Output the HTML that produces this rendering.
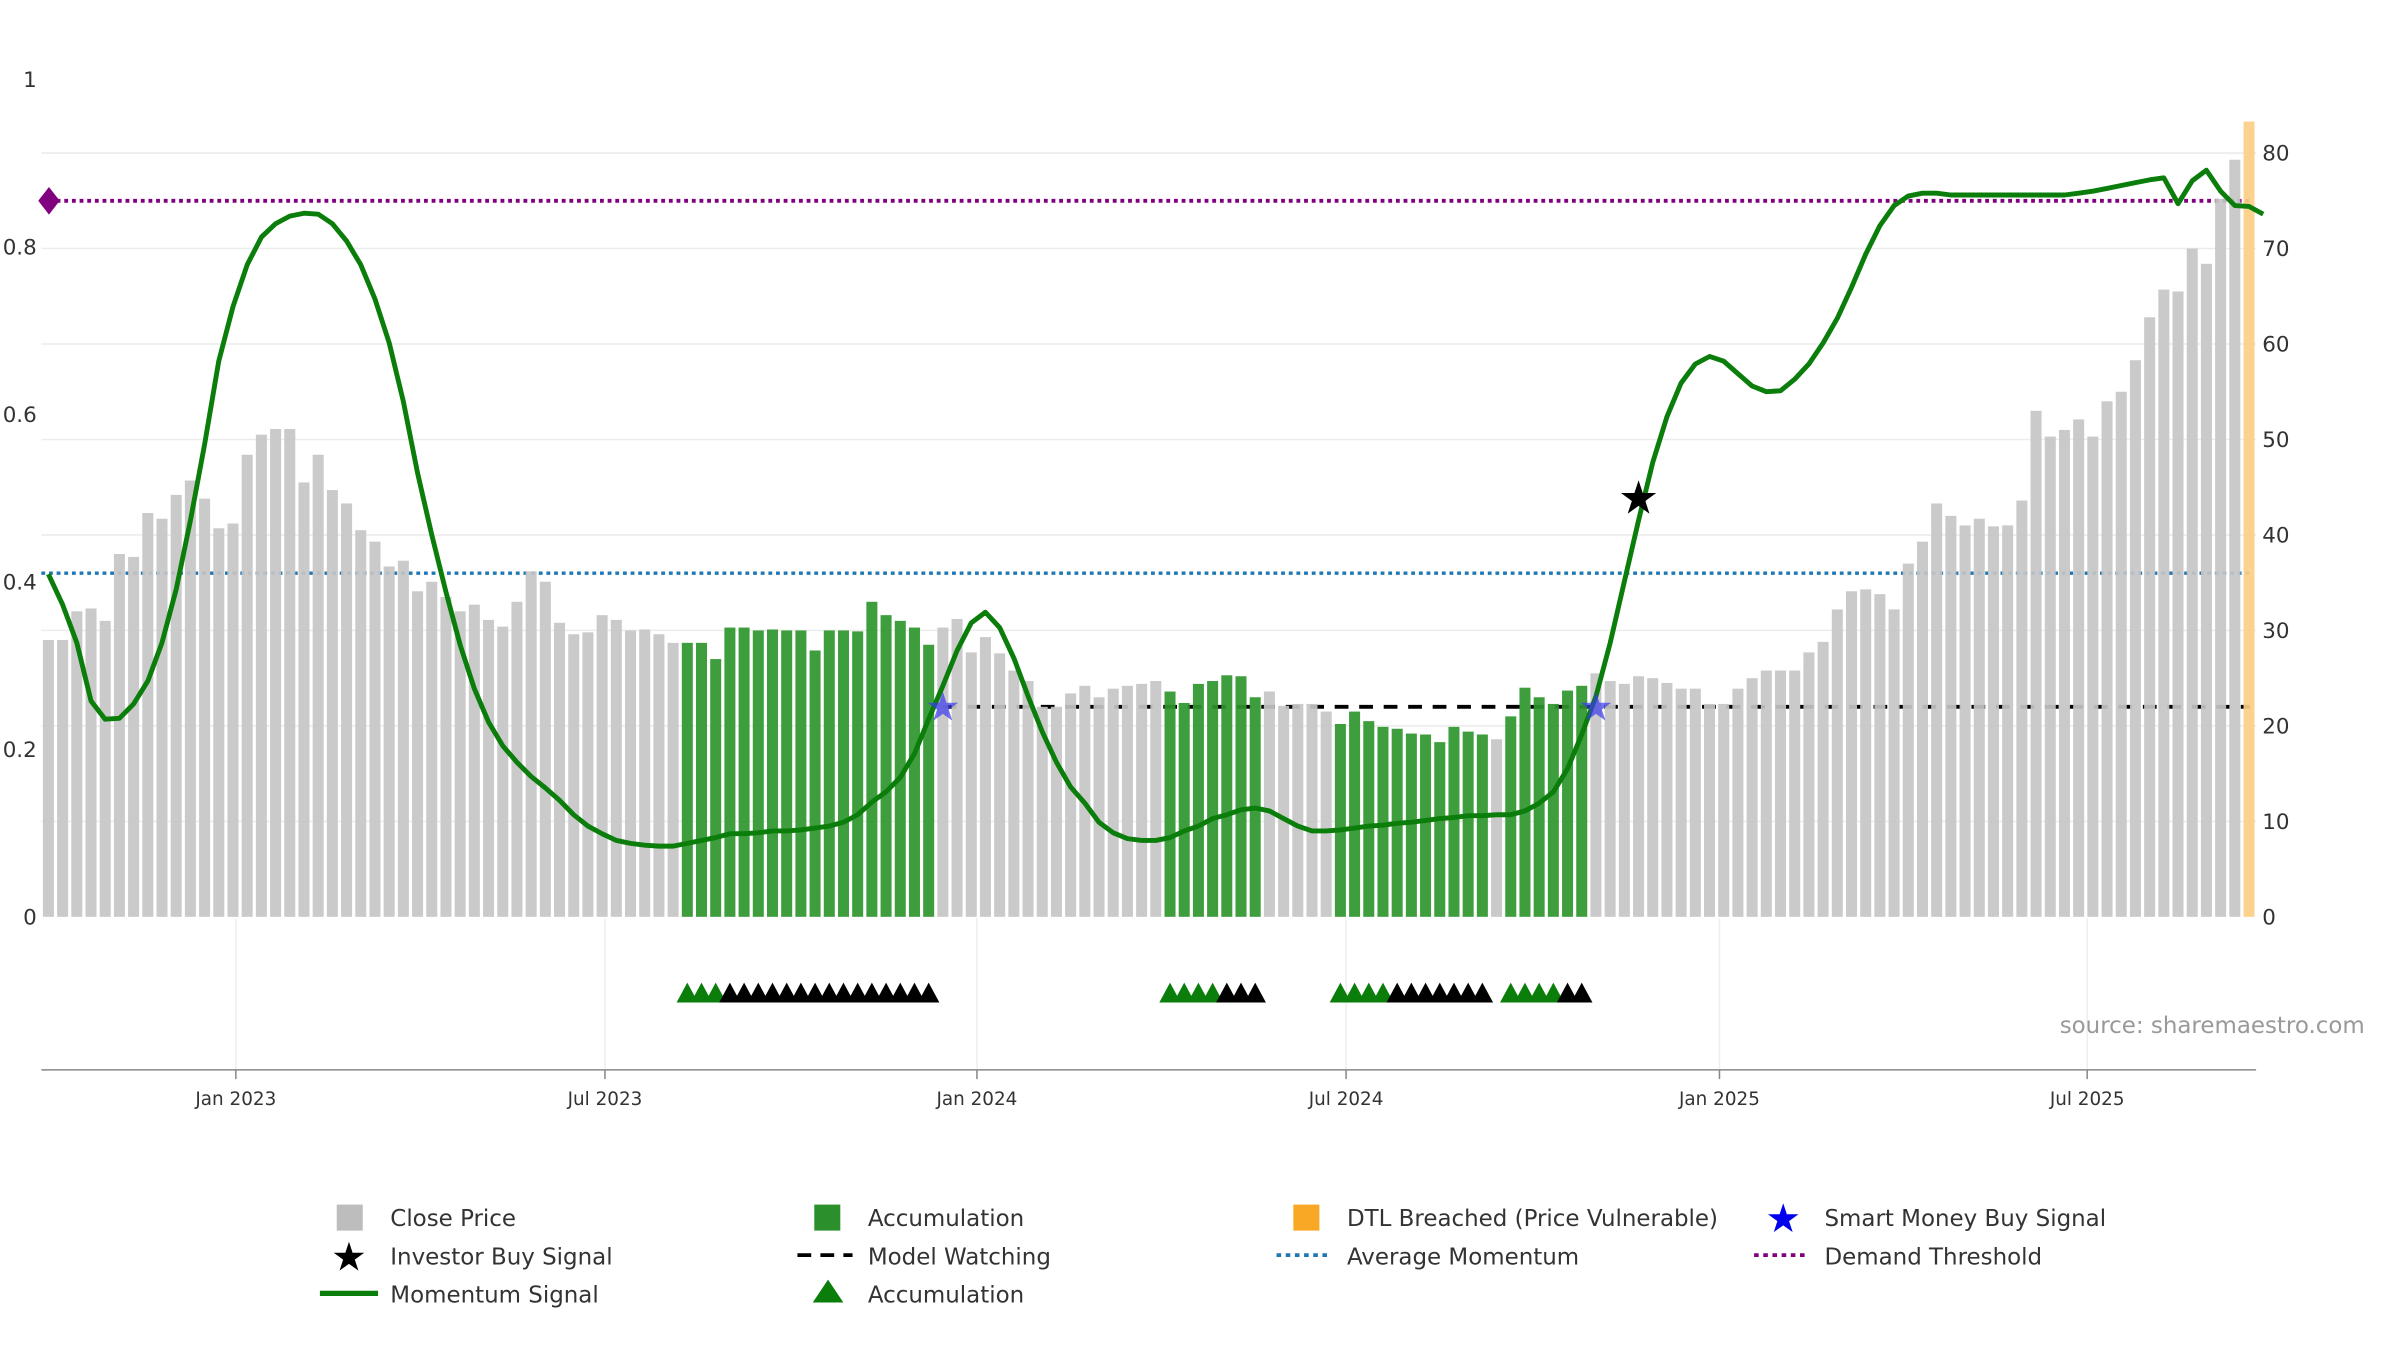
<!DOCTYPE html>
<html><head><meta charset="utf-8"><style>
html,body{margin:0;padding:0;background:#fff;}
svg{display:block;font-family:"DejaVu Sans","Liberation Sans",sans-serif;}
</style></head><body>
<svg id="chart" width="2400" height="1350" viewBox="0 0 1568 882" preserveAspectRatio="none" xmlns="http://www.w3.org/2000/svg">
<g id="grid"></g>
<g id="lines"></g>
<g id="bars"></g>
<g id="mline"></g>
<g id="axes"></g>
<g id="marks"></g>
<text x="1545" y="675" text-anchor="end" font-size="15" fill="#999">source: sharemaestro.com</text>
<g font-size="15" fill="#333">
  <g><rect x="220" y="787" width="17" height="17" fill="#bdbdbd"/><text x="255" y="801">Close Price</text></g>
  <g><rect x="532" y="787" width="17" height="17" fill="#2b8f2b"/><text x="567" y="801">Accumulation</text></g>
  <g><rect x="845" y="787" width="17" height="17" fill="#f9a825"/><text x="880" y="801">DTL Breached (Price Vulnerable)</text></g>
  <g><text x="1165" y="805" font-size="26" fill="#0000ee" text-anchor="middle">★</text><text x="1192" y="801">Smart Money Buy Signal</text></g>
  <g><text x="228" y="830" font-size="26" fill="#000" text-anchor="middle">★</text><text x="255" y="826">Investor Buy Signal</text></g>
  <g><line x1="521" y1="820" x2="557" y2="820" stroke="#000" stroke-width="2.5" stroke-dasharray="9,6"/><text x="567" y="826">Model Watching</text></g>
  <g><line x1="834" y1="820" x2="870" y2="820" stroke="#1f77b4" stroke-width="2.5" stroke-dasharray="3,3"/><text x="880" y="826">Average Momentum</text></g>
  <g><line x1="1146" y1="820" x2="1182" y2="820" stroke="#800080" stroke-width="2.5" stroke-dasharray="3,3"/><text x="1192" y="826">Demand Threshold</text></g>
  <g><line x1="209" y1="845" x2="247" y2="845" stroke="#0a7d0a" stroke-width="3.5"/><text x="255" y="851">Momentum Signal</text></g>
  <g><polygon points="531,851 551,851 541,836" fill="#0a7d0a"/><text x="567" y="851">Accumulation</text></g>
</g>
</svg>
<script>
const closePrice = [29,29,32,32.3,31,38,37.7,42.3,41.7,44.2,45.7,43.8,40.7,41.2,48.4,50.5,51.1,51.1,45.5,48.4,44.7,43.3,40.5,39.3,36.7,37.3,34.1,35.1,33.5,32,32.7,31.1,30.4,33,36.2,35.1,30.8,29.6,29.8,31.6,31.1,30,30.1,29.6,28.7,
28.7,28.7,27,30.3,30.3,30,30.1,30,30,27.9,30,30,29.9,33,31.6,31,30.3,
28.5,30.3,31.2,27.7,29.3,27.6,25.8,24.7,22,22,23.4,24.2,23,23.9,24.2,24.4,
24.7,23.6,22.4,24.4,24.7,25.3,25.2,
23,23.6,22.1,22.3,22.3,
21.5,20.2,21.5,20.5,19.9,19.7,19.2,19.1,18.3,19.9,19.4,
19.1,
18.6,21,24,23,22.3,23.7,
24.2,25.5,24.7,24.4,25.2,25,24.5,23.9,23.9,22.3,22.3,23.9,25,25.8,25.8,25.8,27.7,28.8,32.2,34.1,34.3,33.8,32.2,37,39.3,43.3,42,41,41.7,40.9,41,43.6,53,50.3,51,52.1,50.3,54,55,58.3,62.8,65.7,65.5,70,68.4,75.2,
79.3,83.3];
const momentum = [35.9,32.7,28.7,22.6,20.7,20.8,22.3,24.7,28.7,34.3,41.5,49.5,58.2,63.9,68.3,71.2,72.6,73.4,73.7,73.6,72.6,70.8,68.3,64.7,60.1,54,46.5,
40,34,28.5,23.9,20.4,17.9,
16.2,14.7,13.5,12.2,10.7,9.5,8.7,8,7.7,7.5,7.4,7.4,
7.7,8,8.3,8.7,8.7,8.8,9,9,9.1,9.3,9.5,9.9,10.7,12,13.1,14.6,17.1,20.7,
24.2,27.9,30.8,31.9,30.3,27.1,23.1,19.4,16.2,13.6,11.9,9.9,8.8,8.2,8,8,
8.3,9,9.5,10.3,10.7,11.2,11.4,11.1,10.3,9.5,9,9,
9.1,9.3,9.5,9.6,9.8,9.9,10.1,10.3,10.4,10.6,10.6,10.7,10.7,11.1,11.9,13.1,15.5,19.1,
23.1,28.7,35.1,41.5,47.6,52.4,55.9,57.9,58.7,58.2,56.9,55.6,55,55.1,56.3,57.9,60.1,62.7,65.9,69.4,72.4,74.5,75.5,
75.8,75.8,75.6,75.6,75.6,75.6,75.6,75.6,75.6,75.6,75.6,75.8,76,76.3,76.6,76.9,77.2,77.4,74.7,77.1,78.2,76,74.5,74.4,73.6];
const accumRuns = [[45,62],[79,85],[91,101],[103,108]];
const greenTriCounts = [3,4,4,4];
const dtlBreachedIdx = [155,156];
const demandThreshold = 75;
const avgMomentum = 36;
const modelWatching = 22;
const modelWatchStart = 63;
const smartMoneyIdx = [63,109];
const investorBuyIdx = [112];
const investorBuyLeft = 0.5;
const rightTicks = [0,10,20,30,40,50,60,70,80];
const leftTicks = ["0","0.2","0.4","0.6","0.8","1"];
const leftTickVals = [0,0.2,0.4,0.6,0.8,1];
const dateLabels = ["Jan 2023","Jul 2023","Jan 2024","Jul 2024","Jan 2025","Jul 2025"];
const dateIdx = [13.2,39.2,65.4,91.4,117.7,143.6];

const NS="http://www.w3.org/2000/svg";
const X0=27,X1=1474,Y0=599;
const N=closePrice.length;
const step=(X1-X0)/N;
function xs(i){return X0+(i+0.5)*step;}
function yr(v){return Y0-v*(Y0-100)/80;}
function yl(v){return Y0-v*(Y0-52);}
function mk(tag,attrs,parent){const e=document.createElementNS(NS,tag);for(const k in attrs)e.setAttribute(k,attrs[k]);parent.appendChild(e);return e;}
const grid=document.getElementById('grid'),bars=document.getElementById('bars'),lines=document.getElementById('lines'),axes=document.getElementById('axes'),marks=document.getElementById('marks'),mline=document.getElementById('mline');

rightTicks.forEach(t=>{if(t===0)return;const l=mk('line',{x1:X0,x2:X1,y1:yr(t),y2:yr(t),stroke:'#ececec','stroke-width':1},grid);

});
dateIdx.forEach(d=>{const l=mk('line',{x1:xs(d),x2:xs(d),y1:600,y2:699,stroke:'#eeeeee','stroke-width':1},grid);

});

function isAccum(i){return accumRuns.some(r=>i>=r[0]&&i<=r[1]);}
closePrice.forEach((v,i)=>{let c='#c6c6c6';if(isAccum(i))c='#2e962e';if(dtlBreachedIdx.includes(i))c='#fbcf85';
const r=mk('rect',{x:xs(i)-3.6,y:yr(v),width:7.2,height:Y0-yr(v),fill:c,'fill-opacity':0.92},bars);

});

let l1=mk('line',{x1:X0,x2:1470,y1:yr(demandThreshold),y2:yr(demandThreshold),stroke:'#800080','stroke-width':2.5,'stroke-dasharray':'2.5,2.5'},lines);


let dm=mk('polygon',{points:`${X0+5},${yr(demandThreshold)-9} ${X0+12},${yr(demandThreshold)} ${X0+5},${yr(demandThreshold)+9} ${X0-2},${yr(demandThreshold)}`,fill:'#800080'},lines);


let l2=mk('line',{x1:X0,x2:1470,y1:yr(avgMomentum),y2:yr(avgMomentum),stroke:'#1f77b4','stroke-width':2.2,'stroke-dasharray':'2.5,2.5'},lines);


let l3=mk('line',{x1:xs(modelWatchStart),x2:1470,y1:yr(modelWatching),y2:yr(modelWatching),stroke:'#000','stroke-width':2.5,'stroke-dasharray':'9,7'},lines);



let d='';momentum.forEach((v,i)=>{d+=(i?'L':'M')+xs(i).toFixed(1)+','+yr(v).toFixed(1);});
let ml=mk('path',{d:d,fill:'none',stroke:'#0a7d0a','stroke-width':3.2,'stroke-linejoin':'round'},mline);



leftTicks.forEach((t,k)=>{const e=mk('text',{x:24,y:yl(leftTickVals[k])+5,'text-anchor':'end','font-size':14,fill:'#333'},axes);e.textContent=t;

});
rightTicks.forEach(t=>{const e=mk('text',{x:1478,y:yr(t)+5,'font-size':14,fill:'#333'},axes);e.textContent=t;

});
let ax=mk('line',{x1:X0,x2:X1,y1:699,y2:699,stroke:'#888','stroke-width':1},axes);


dateLabels.forEach((t,k)=>{const x=xs(dateIdx[k]);const tk=mk('line',{x1:x,x2:x,y1:699,y2:705,stroke:'#888'},axes);


const e=mk('text',{x:x,y:722,'text-anchor':'middle','font-size':12,fill:'#333'},axes);e.textContent=t;

});

accumRuns.forEach((r,k)=>{for(let i=r[0];i<=r[1];i++){const x=xs(i);const g=(i-r[0])<greenTriCounts[k];
const p=mk('polygon',{points:`${x-7},655 ${x+7},655 ${x},642`,fill:g?'#0a7d0a':'#000'},marks);

}});
smartMoneyIdx.forEach(i=>{const s=mk('text',{x:xs(i),y:yr(modelWatching)+9,'text-anchor':'middle','font-size':26,fill:'#3a3af0','fill-opacity':0.7},marks);s.textContent='★';

});
investorBuyIdx.forEach(i=>{const s=mk('text',{x:xs(i),y:yl(investorBuyLeft)+10,'text-anchor':'middle','font-size':30,fill:'#000'},marks);s.textContent='★';

});
</script>
</body></html>
